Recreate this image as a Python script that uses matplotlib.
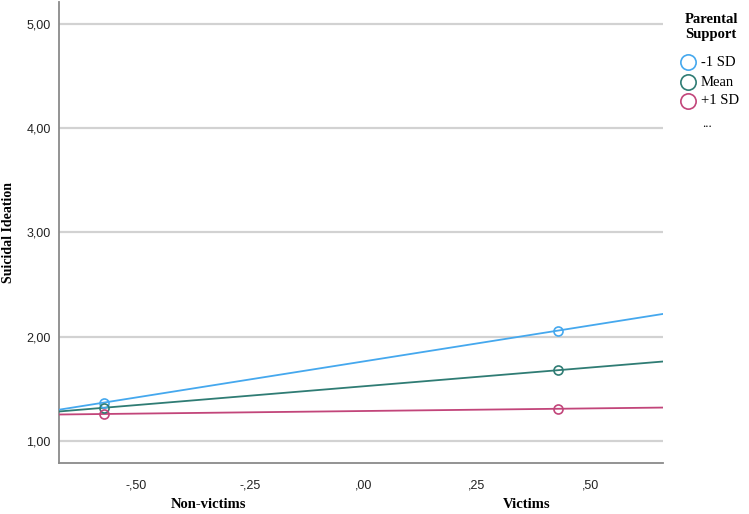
import matplotlib
matplotlib.use('Agg')
import matplotlib.pyplot as plt
from matplotlib.lines import Line2D
import numpy as np

# victim status (centered dummy) and predicted suicidal ideation
x_points = [-0.57, 0.43]
groups = ['-1 SD', 'Mean', '+1 SD']
values = {
	'-1 SD': [1.37, 2.06],
	'Mean': [1.32, 1.68],
	'+1 SD': [1.26, 1.31],
}
colors = {'-1 SD': '#45a8ee', 'Mean': '#2f7c74', '+1 SD': '#c2457a'}
yticks = [1, 2, 3, 4, 5]
xticks = [-0.5, -0.25, 0.0, 0.25, 0.5]
xtick_labels = ['-,50', '-,25', ',00', ',25', ',50']
categories = ['Non-victims', 'Victims']
category_pos = [-0.34, 0.36]

xlim = (-0.67, 0.66)
ylim = (0.79, 5.21)

fig = plt.figure(figsize=(7.49, 5.14), dpi=100)
ax = fig.add_axes([0.0788, 0.0992, 0.806, 0.897])

for g in groups:
	y = values[g]
	k, b = np.polyfit(x_points, y, 1)
	xs = np.array(xlim)
	ax.plot(xs, k * xs + b, color=colors[g], lw=1.3, zorder=3)
	ax.plot(x_points, y, 'o', mfc='none', mec=colors[g], ms=6.5, mew=1.2, zorder=4)

ax.set_xlim(*xlim)
ax.set_ylim(*ylim)
ax.set_yticks(yticks)
ax.set_yticklabels(['%d,00' % v for v in yticks], fontsize=9, family='Liberation Sans')
ax.set_xticks(xticks)
ax.set_xticklabels(xtick_labels, fontsize=9, family='Liberation Sans')
ax.tick_params(length=0, pad=6, colors='#222222')
ax.tick_params(axis='x', pad=12)
ax.yaxis.grid(True, color='#d2d2d2', lw=1.6)
ax.set_axisbelow(True)
for s in ['top', 'right']:
	ax.spines[s].set_visible(False)
for s in ['left', 'bottom']:
	ax.spines[s].set_color('#8a8a8a')
	ax.spines[s].set_linewidth(1.3)

ax.set_ylabel('Suicidal Ideation', family='Liberation Serif', fontweight='bold', fontsize=10, va='center')
ax.yaxis.set_label_coords(-0.084, 0.5)

for c, lab in zip(category_pos, categories):
	ax.text(c, -0.09, lab, transform=ax.get_xaxis_transform(), ha='center', va='center',
		family='Liberation Serif', fontweight='bold', fontsize=10.5)

# legend
fig.text(711 / 749, 1 - 27 / 514, 'Parental\nSupport', ha='center', va='center', family='Liberation Serif',
	fontweight='bold', fontsize=10.5, linespacing=1.2)
ys = [62, 82, 101]
for g, yy in zip(groups, ys):
	yf = 1 - yy / 514
	fig.add_artist(Line2D([688 / 749], [yf], marker='o', mfc='none', mec=colors[g], ms=11, mew=1.2,
		transform=fig.transFigure))
	fig.text(701 / 749, yf, g, ha='left', va='center', family='Liberation Serif', fontsize=10.5)
fig.text(702 / 749, 1 - 124 / 514, '...', ha='left', va='center', family='Liberation Serif', fontsize=9)

fig.savefig('out.png', dpi=100)
